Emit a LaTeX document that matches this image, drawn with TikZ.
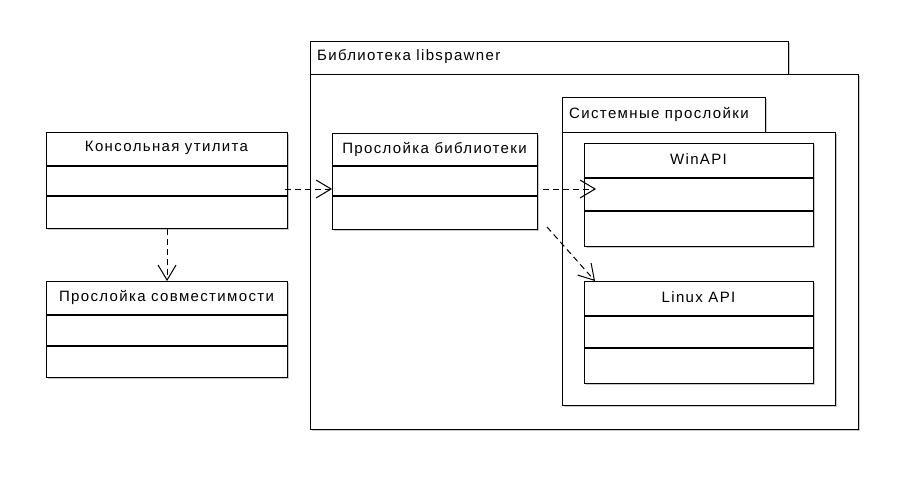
\documentclass[tikz,border=0pt]{standalone}
\usepackage{fontspec}
\setmainfont{Liberation Sans}[LetterSpace=9]
\usetikzlibrary{arrows.meta,shadows}
\begin{document}
\begin{tikzpicture}[x=1pt,y=-1pt,
  box/.style={draw=black,line width=1.1pt,fill=white,anchor=north west,inner sep=0pt,
     drop shadow={shadow xshift=1.2pt,shadow yshift=-1.2pt,fill=black!35,opacity=0.6}},
  lbl/.style={font=\fontsize{15}{17}\selectfont,inner sep=0pt},
  dep/.style={line width=1pt,dash pattern=on 6pt off 4pt,
     -{Straight Barb[length=15pt,width=18pt,line width=1pt]}},
  sep/.style={line width=1.1pt}]
\useasboundingbox (0,0) rectangle (902,479);
\fill[white] (0,0) rectangle (902,479);
% package libspawner
\node[box,minimum width=478pt,minimum height=33pt] (libtab) at (310,41) {};
\node[box,minimum width=548pt,minimum height=355pt] (lib) at (310,74) {};
\node[lbl,anchor=west] (libtxt) at (317,57) {Библиотека libspawner};
% package system layers
\node[box,minimum width=203pt,minimum height=35pt] (systab) at (562,97) {};
\node[box,minimum width=273pt,minimum height=273pt] (sys) at (562,132) {};
\node[lbl,anchor=west] (systxt) at (569,114) {Системные прослойки};
% console utility
\node[box,minimum width=241pt,minimum height=96pt] (cu) at (46,132) {};
\draw[sep] (46,166) -- (287,166) (46,196) -- (287,196);
\node[lbl] (cut) at (166.5,148) {Консольная утилита};
% compat layer
\node[box,minimum width=241pt,minimum height=96pt] (cl) at (46,281) {};
\draw[sep] (46,315) -- (287,315) (46,346) -- (287,346);
\node[lbl] (clt) at (166.5,297) {Прослойка совместимости};
% library layer
\node[box,minimum width=205pt,minimum height=96pt] (ll) at (332,133) {};
\draw[sep] (332,166) -- (537,166) (332,196) -- (537,196);
\node[lbl] (llt) at (434.5,149) {Прослойка библиотеки};
% WinAPI
\node[box,minimum width=229pt,minimum height=103pt] (win) at (584,143) {};
\draw[sep] (584,178) -- (813,178) (584,211) -- (813,211);
\node[lbl] (wint) at (698.5,159) {WinAPI};
% Linux API
\node[box,minimum width=229pt,minimum height=102pt] (lin) at (584,281) {};
\draw[sep] (584,316) -- (813,316) (584,348) -- (813,348);
\node[lbl] (lint) at (698.5,297) {Linux API};
% connectors
\coordinate (a1s) at (285,189);
\coordinate (a2s) at (543,189);
\coordinate (a2e) at (596,189);
\coordinate (a3s) at (547,227);
\coordinate (a3e) at (595,281);
\draw[dep] (a1s) -- (ll.west |- a1s);
\draw[dep] (cu.south) -- (cl.north);
\draw[dep] (a2s) -- (a2e);
\draw[dep] (a3s) -- (a3e);
\end{tikzpicture}
\end{document}
